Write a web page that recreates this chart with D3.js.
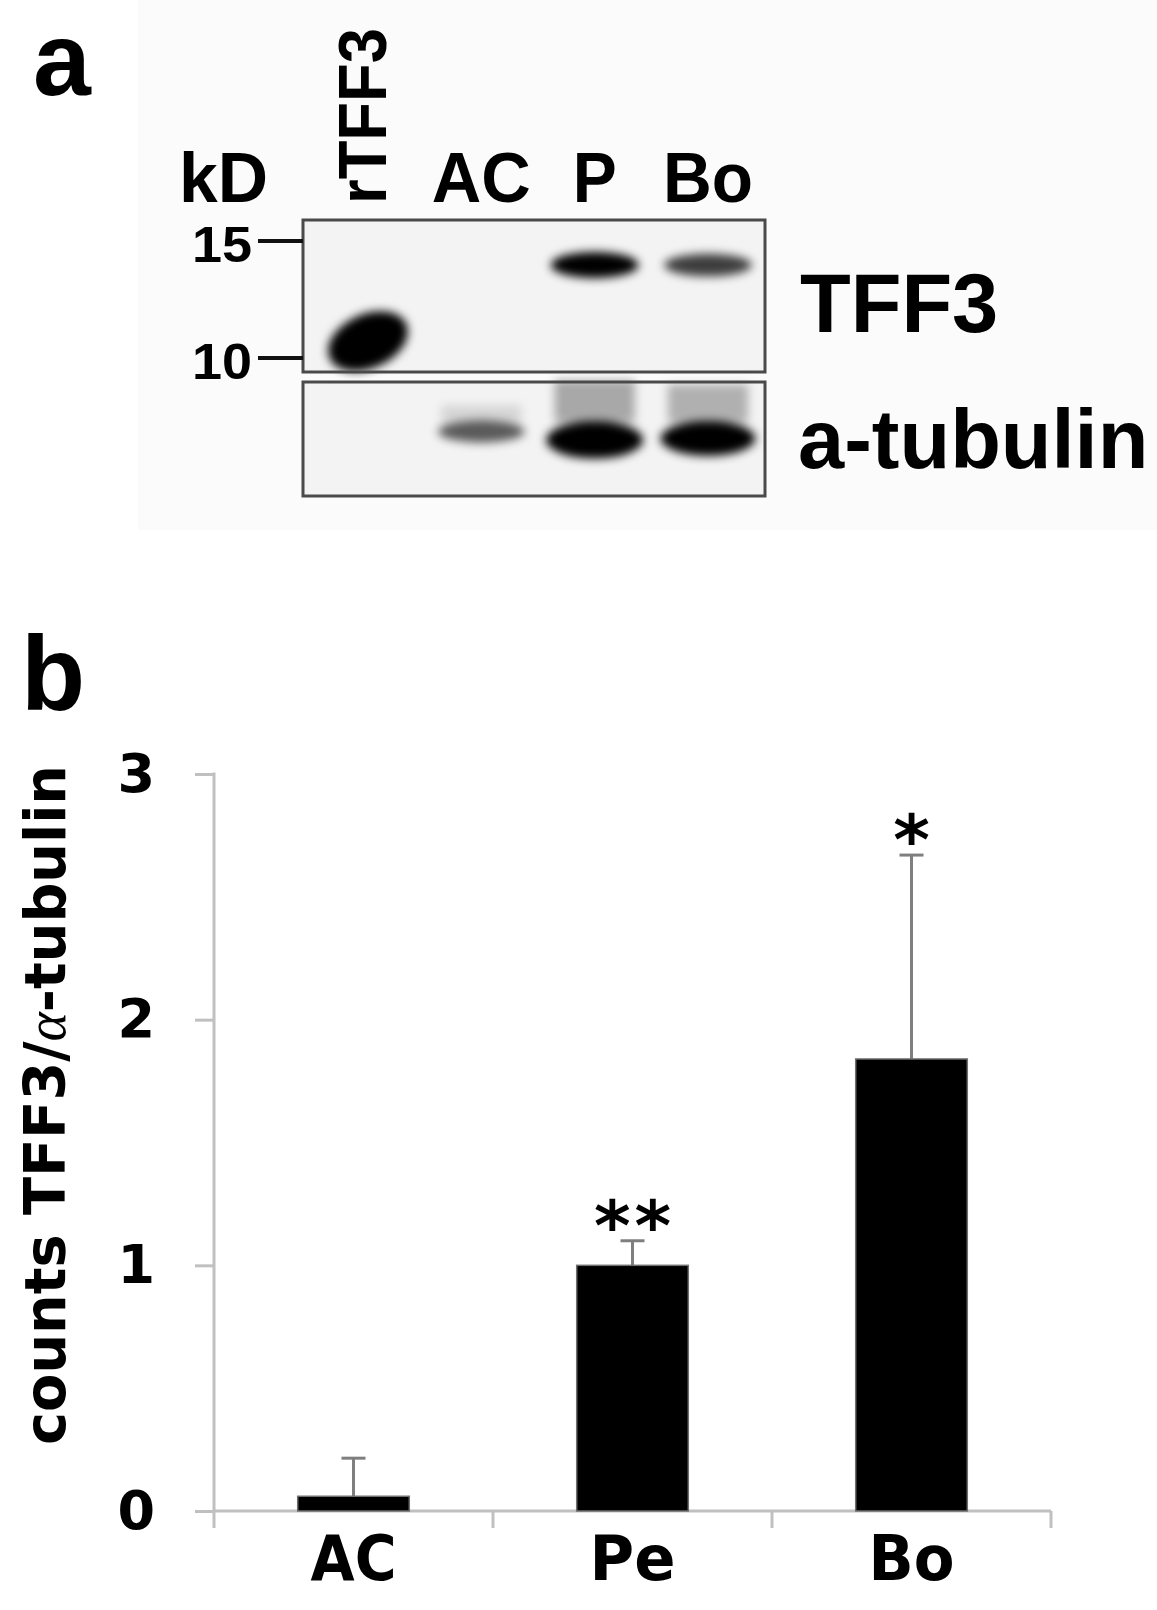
<!DOCTYPE html>
<html>
<head>
<meta charset="utf-8">
<script src="https://cdn.jsdelivr.net/npm/d3@7"></script>
<style>
  body { margin: 0; background: #fff; }
  svg { display: block; }
</style>
</head>
<body>
<svg id="fig" width="1157" height="1610"></svg>
<script>
// ---- panel a: western blot ----
const lanes = ["rTFF3", "AC", "P", "Bo"];
const markerKd = [15, 10];
const tff3Kd = [10.6, 13.8, 13.8, 13.8];
const tff3Signal = [3.0, 0, 1.0, 0.75];
const tubulinSignal = [0, 0.55, 1.4, 1.25];

// ---- panel b: quantification ----
const categories = ["AC", "Pe", "Bo"];
const means = [0.06, 1.0, 1.84];
const errors = [0.155, 0.1, 0.83];
const stars = ["", "**", "*"];
const yTicks = [0, 1, 2, 3];

const svg = d3.select("#fig");
const labelFont = "'Liberation Sans', Arial, sans-serif";
const chartFont = "'DejaVu Sans', Verdana, sans-serif";

svg.append("defs").append("filter")
    .attr("id", "blur")
    .attr("x", "-50%").attr("y", "-100%")
    .attr("width", "200%").attr("height", "300%")
    .append("feGaussianBlur")
    .attr("stdDeviation", 5);

// light backdrop of the blot picture
svg.append("rect")
    .attr("x", 138).attr("y", 0)
    .attr("width", 1157 - 138).attr("height", 530)
    .attr("fill", "#fbfbfb");

svg.append("text")
    .attr("x", 33).attr("y", 95)
    .attr("font-family", labelFont).attr("font-weight", "bold")
    .attr("font-size", 104)
    .text("a");

let lane = d3.scalePoint().domain(lanes).range([368, 708]);
let kd = d3.scaleLog().domain([10, 15]).range([358, 241]);

let topBox = {x: 303, y: 220, w: 462, h: 152};
let lowBox = {x: 303, y: 382, w: 462, h: 114};

[topBox, lowBox].forEach(function (b) {
    svg.append("rect")
        .attr("x", b.x).attr("y", b.y)
        .attr("width", b.w).attr("height", b.h)
        .attr("fill", "#f3f3f3");
});

let bands = svg.append("g").attr("filter", "url(#blur)");

// TFF3 row
bands.selectAll(".tff3")
    .data(lanes.map(function (d, i) {
        return {lane: d, kd: tff3Kd[i], s: tff3Signal[i]};
    }).filter(function (d) { return d.s > 0; }))
    .enter()
    .append("ellipse")
    .attr("class", "tff3")
    .attr("cx", function (d) { return lane(d.lane); })
    .attr("cy", function (d) { return kd(d.kd); })
    .attr("rx", function (d) { return d.s > 1.5 ? 42 : 44; })
    .attr("ry", function (d) { return 6 + 7 * d.s; })
    .attr("transform", function (d) {
        return d.s > 1.5 ? "rotate(-24 " + lane(d.lane) + " " + kd(d.kd) + ")" : null;
    })
    .attr("fill", "#000")
    .attr("fill-opacity", function (d) { return Math.min(1, d.s); });

// tubulin row: smear above the band, then the band
let tub = lanes.map(function (d, i) {
    return {lane: d, s: tubulinSignal[i]};
}).filter(function (d) { return d.s > 0; });

bands.selectAll(".smear")
    .data(tub)
    .enter()
    .append("rect")
    .attr("class", "smear")
    .attr("x", function (d) { return lane(d.lane) - 40; })
    .attr("y", function (d) { return 440 - 18 - 30 * d.s; })
    .attr("width", 80)
    .attr("height", function (d) { return 30 * d.s; })
    .attr("fill", "#000")
    .attr("fill-opacity", function (d) { return 0.22 * d.s; });

bands.selectAll(".tub")
    .data(tub)
    .enter()
    .append("ellipse")
    .attr("class", "tub")
    .attr("cx", function (d) { return lane(d.lane); })
    .attr("cy", function (d) { return 440 - (1.4 - d.s) * 10; })
    .attr("rx", function (d) { return 40 + 6 * d.s; })
    .attr("ry", function (d) { return 6 + 9 * d.s; })
    .attr("fill", "#000")
    .attr("fill-opacity", function (d) { return Math.min(1, 0.3 + 0.6 * d.s); });

[topBox, lowBox].forEach(function (b) {
    svg.append("rect")
        .attr("x", b.x).attr("y", b.y)
        .attr("width", b.w).attr("height", b.h)
        .attr("fill", "none")
        .attr("stroke", "#4a4a4a")
        .attr("stroke-width", 3);
});

// lane headers
svg.append("text")
    .attr("x", 179).attr("y", 202)
    .attr("font-family", labelFont).attr("font-weight", "bold")
    .attr("font-size", 71)
    .attr("textLength", 89).attr("lengthAdjust", "spacingAndGlyphs")
    .text("kD");

let headerLen = {"AC": 99, "P": 44, "Bo": 90};
lanes.forEach(function (d) {
    if (d === "rTFF3") {
        svg.append("text")
            .attr("transform", "translate(386,204) rotate(-90)")
            .attr("font-family", labelFont).attr("font-weight", "bold")
            .attr("font-size", 68)
            .attr("textLength", 176).attr("lengthAdjust", "spacingAndGlyphs")
            .text(d);
    } else {
        svg.append("text")
            .attr("x", lane(d))
            .attr("y", 202)
            .attr("text-anchor", "middle")
            .attr("font-family", labelFont).attr("font-weight", "bold")
            .attr("font-size", 71)
            .attr("textLength", headerLen[d]).attr("lengthAdjust", "spacingAndGlyphs")
            .text(d);
    }
});

// molecular weight markers
markerKd.forEach(function (m) {
    svg.append("line")
        .attr("x1", 258).attr("x2", 303)
        .attr("y1", kd(m)).attr("y2", kd(m))
        .attr("stroke", "#111")
        .attr("stroke-width", 4);
    svg.append("text")
        .attr("x", 252).attr("y", kd(m) + 21)
        .attr("text-anchor", "end")
        .attr("font-family", labelFont).attr("font-weight", "bold")
        .attr("font-size", 50)
        .attr("textLength", 60).attr("lengthAdjust", "spacingAndGlyphs")
        .text(m);
});

svg.append("text")
    .attr("x", 800).attr("y", 332)
    .attr("font-family", labelFont).attr("font-weight", "bold")
    .attr("font-size", 83)
    .text("TFF3");

svg.append("text")
    .attr("x", 798).attr("y", 468)
    .attr("font-family", labelFont).attr("font-weight", "bold")
    .attr("font-size", 83)
    .text("a-tubulin");

// ---- panel b ----
svg.append("text")
    .attr("x", 21).attr("y", 710)
    .attr("font-family", labelFont).attr("font-weight", "bold")
    .attr("font-size", 105)
    .text("b");

let y = d3.scaleLinear().domain([0, 3]).range([1511, 774]);
let x = d3.scaleBand().domain(categories).range([214, 1051])
    .paddingInner(0.6).paddingOuter(0.3);

let axisColor = "#c0c0c0";

let yAxis = svg.append("g")
    .attr("transform", "translate(214,0)")
    .call(d3.axisLeft(y).tickValues(yTicks).tickSize(19).tickPadding(40)
        .tickFormat(d3.format("d")));
yAxis.select(".domain").remove();
yAxis.selectAll(".tick line").attr("stroke", axisColor).attr("stroke-width", 3);
yAxis.selectAll(".tick text")
    .attr("font-family", chartFont).attr("font-weight", "bold")
    .attr("font-size", 54).attr("fill", "#000");

svg.append("line")
    .attr("x1", 214).attr("x2", 214)
    .attr("y1", y(3) - 1.5).attr("y2", y(0) + 17)
    .attr("stroke", axisColor).attr("stroke-width", 3);

let xAxis = svg.append("g")
    .attr("transform", "translate(0," + y(0) + ")")
    .call(d3.axisBottom(x).tickSize(0).tickPadding(25));
xAxis.select(".domain").remove();
xAxis.selectAll(".tick text")
    .attr("font-family", chartFont).attr("font-weight", "bold")
    .attr("font-size", 62).attr("fill", "#000")
    .attr("textLength", 86).attr("lengthAdjust", "spacingAndGlyphs");

svg.append("line")
    .attr("x1", x.range()[0]).attr("x2", x.range()[1])
    .attr("y1", y(0)).attr("y2", y(0))
    .attr("stroke", axisColor).attr("stroke-width", 3);

// category boundary ticks
svg.selectAll(".xtick")
    .data(categories)
    .enter()
    .append("line")
    .attr("class", "xtick")
    .attr("x1", function (d) { return x(d) - x.step() * x.paddingOuter() + x.step(); })
    .attr("x2", function (d) { return x(d) - x.step() * x.paddingOuter() + x.step(); })
    .attr("y1", y(0)).attr("y2", y(0) + 17)
    .attr("stroke", axisColor).attr("stroke-width", 3);

let rows = categories.map(function (d, i) {
    return {cat: d, mean: means[i], err: errors[i], star: stars[i]};
});

// error bars (drawn behind the bars)
let eb = svg.selectAll(".err")
    .data(rows)
    .enter()
    .append("g")
    .attr("class", "err")
    .attr("stroke", "#7f7f7f")
    .attr("stroke-width", 3);

eb.append("line")
    .attr("x1", function (d) { return x(d.cat) + x.bandwidth() / 2; })
    .attr("x2", function (d) { return x(d.cat) + x.bandwidth() / 2; })
    .attr("y1", function (d) { return y(d.mean); })
    .attr("y2", function (d) { return y(d.mean + d.err); });

eb.append("line")
    .attr("x1", function (d) { return x(d.cat) + x.bandwidth() / 2 - 12; })
    .attr("x2", function (d) { return x(d.cat) + x.bandwidth() / 2 + 12; })
    .attr("y1", function (d) { return y(d.mean + d.err); })
    .attr("y2", function (d) { return y(d.mean + d.err); });

svg.selectAll(".bar")
    .data(rows)
    .enter()
    .append("rect")
    .attr("class", "bar")
    .attr("x", function (d) { return x(d.cat); })
    .attr("y", function (d) { return y(d.mean); })
    .attr("width", x.bandwidth())
    .attr("height", function (d) { return y(0) - y(d.mean); })
    .attr("fill", "#000")
    .attr("stroke", "#6f6f6f")
    .attr("stroke-width", 1.5);

svg.selectAll(".star")
    .data(rows.filter(function (d) { return d.star; }))
    .enter()
    .append("text")
    .attr("class", "star")
    .attr("x", function (d) { return x(d.cat) + x.bandwidth() / 2; })
    .attr("y", function (d) { return y(d.mean + d.err) + 9; })
    .attr("dx", function (d) { return d.star.length > 1 ? 2 : 0; })
    .attr("text-anchor", "middle")
    .attr("letter-spacing", function (d) { return d.star.length > 1 ? 4 : 0; })
    .attr("font-family", chartFont).attr("font-weight", "bold")
    .attr("font-size", 70)
    .text(function (d) { return d.star; });

// y title
let title = svg.append("text")
    .attr("transform", "translate(65,1105) rotate(-90)")
    .attr("text-anchor", "middle")
    .attr("font-family", chartFont).attr("font-weight", "bold")
    .attr("font-size", 57)
    .attr("textLength", 680).attr("lengthAdjust", "spacingAndGlyphs");
title.append("tspan").text("counts TFF3/");
title.append("tspan")
    .attr("font-family", "'Liberation Serif', 'Times New Roman', serif")
    .attr("font-style", "italic").attr("font-weight", "normal")
    .text("α");
title.append("tspan").text("-tubulin");
</script>
</body>
</html>
